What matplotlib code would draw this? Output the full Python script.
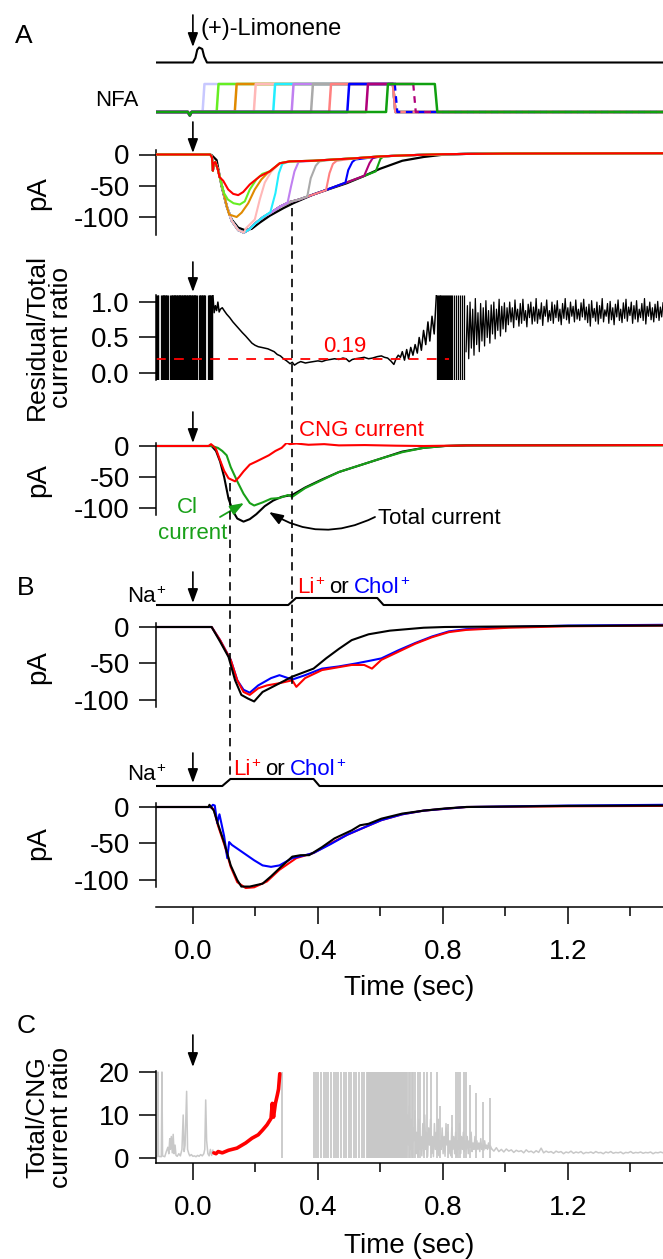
import numpy as np
import matplotlib
matplotlib.use("Agg")
import matplotlib.pyplot as plt
from matplotlib.lines import Line2D
from matplotlib.patches import FancyArrowPatch
from matplotlib.transforms import blended_transform_factory

# ---------------- data (time in s) ----------------
TMIN, TMAX = -0.118, 1.504

# A: odor pulse and NFA applications
lim_pulse = [(TMIN, 0), (0.0, 0), (0.008, 0.3), (0.014, 0.85), (0.02, 1), (0.03, 0.9),
             (0.036, 0.4), (0.045, 0), (TMAX, 0)]
nfa_colors = ["#c8c8ff", "#66ee22", "#e08a00", "#ffb8b8", "#22eeff", "#c080f0",
              "#aaaaaa", "#ff8080", "#0000ff", "#b0007a", "#10a010"]
nfa_on = [0.031, 0.076, 0.134, 0.195, 0.257, 0.316, 0.378, 0.436, 0.494, 0.554, 0.618]
nfa_off = [0.64, 0.64, 0.64, 0.64, 0.64, 0.64, 0.64, 0.64, 0.646, 0.705, 0.774]
nfa_dashed_off = [False] * 8 + [True, True, False]

# A: currents (pA)
a_total = [(TMIN, 0), (0.055, 0), (0.06, -1), (0.076, -9), (0.092, -51), (0.108, -83),
           (0.124, -104), (0.145, -117), (0.166, -121), (0.188, -119), (0.214, -109),
           (0.246, -98), (0.289, -86), (0.321, -78), (0.385, -64), (0.438, -55),
           (0.492, -46), (0.545, -35), (0.598, -23), (0.67, -10), (0.738, -4),
           (0.806, 0), (0.9, 1.5), (1.1, 2), (TMAX, 2)]
a_env = [(TMIN, 0), (0.055, 0), (0.061, -4), (0.064, -26), (0.067, -14), (0.072, -12),
         (0.08, -24), (0.092, -48), (0.108, -82), (0.124, -106), (0.145, -121),
         (0.163, -125), (0.18, -120), (0.2, -110), (0.225, -100), (0.25, -93),
         (0.28, -83), (0.31, -76), (0.34, -72), (0.38, -65), (0.43, -56), (0.49, -45),
         (0.55, -34), (0.6, -25)]
a_resid = [(0.085, -36), (0.097, -42), (0.113, -56), (0.129, -63), (0.145, -65),
           (0.161, -60), (0.182, -48), (0.214, -35), (0.246, -27), (0.278, -14),
           (0.31, -11), (0.385, -10), (0.45, -8), (0.52, -6), (0.6, -3), (0.7, -1),
           (0.8, 0.5), (1.0, 1.5), (TMAX, 2)]
a_lime = [(0.1, -62), (0.112, -72), (0.13, -78), (0.15, -80), (0.166, -75), (0.182, -56),
          (0.203, -40), (0.222, -31)]
a_orange = [(0.116, -96), (0.14, -100), (0.156, -93), (0.177, -78), (0.198, -56),
            (0.219, -40), (0.24, -29)]
a_pink = [(0.17, -118), (0.198, -104), (0.214, -72), (0.23, -45), (0.25, -28)]
a_cyan = [(0.248, -92), (0.264, -62), (0.275, -30), (0.286, -15)]
a_violet = [(0.303, -77), (0.314, -51), (0.325, -27), (0.338, -12)]
a_gray = [(0.366, -67), (0.377, -38), (0.393, -18), (0.405, -11)]
a_salmon = [(0.426, -57), (0.437, -30), (0.448, -15), (0.46, -10)]
a_blue = [(0.488, -45), (0.497, -25), (0.51, -12), (0.52, -8)]
a_purple = [(0.548, -34), (0.565, -14), (0.575, -6)]
a_green = [(0.585, -27), (0.6, -7), (0.61, -3)]

# A: residual / total ratio
r_spikes1 = [-0.117, -0.115, -0.113, -0.111, -0.101, -0.099, -0.097, -0.095, -0.093,
             -0.091, -0.089, -0.087, -0.085, -0.083, -0.081, -0.072, -0.07, -0.068,
             -0.066, -0.064, -0.062, -0.06, -0.058, -0.056, -0.054, -0.052, -0.05,
             -0.048, -0.046, -0.044, -0.042, -0.04, -0.038, -0.036, -0.034, -0.032,
             -0.03, -0.028, -0.026, -0.024, -0.022, -0.02, -0.018, -0.016, -0.014,
             -0.012, -0.01, -0.008, -0.006, -0.004, -0.002, 0.0, 0.002, 0.004, 0.006,
             0.008, 0.01, 0.012, 0.02, 0.022, 0.024, 0.026, 0.028, 0.03, 0.032, 0.034,
             0.036, 0.038, 0.048, 0.05, 0.052, 0.054, 0.056, 0.058, 0.06, 0.062]
r_smooth = [(0.064, 1.1), (0.068, 0.85), (0.072, 0.95), (0.076, 0.88), (0.08, 1.0),
            (0.084, 0.86), (0.088, 0.9), (0.094, 0.92), (0.1, 0.88), (0.108, 0.83),
            (0.118, 0.78), (0.128, 0.72), (0.138, 0.67), (0.148, 0.62), (0.158, 0.57),
            (0.169, 0.52), (0.179, 0.47), (0.189, 0.42), (0.199, 0.39), (0.209, 0.37),
            (0.22, 0.36), (0.23, 0.35), (0.24, 0.34), (0.25, 0.32), (0.26, 0.3),
            (0.27, 0.26), (0.28, 0.24), (0.29, 0.2), (0.3, 0.17), (0.311, 0.13),
            (0.318, 0.15), (0.325, 0.11), (0.335, 0.14), (0.345, 0.16), (0.36, 0.14),
            (0.372, 0.15), (0.386, 0.16), (0.4, 0.17), (0.413, 0.16), (0.426, 0.18),
            (0.44, 0.19), (0.453, 0.2), (0.467, 0.19), (0.48, 0.21), (0.49, 0.2),
            (0.5, 0.16), (0.51, 0.19), (0.52, 0.2), (0.535, 0.21), (0.548, 0.22),
            (0.562, 0.2), (0.575, 0.21), (0.59, 0.23), (0.603, 0.24), (0.613, 0.22),
            (0.623, 0.21), (0.633, 0.17), (0.643, 0.12), (0.65, 0.2), (0.657, 0.25),
            (0.664, 0.22), (0.67, 0.3), (0.677, 0.18), (0.684, 0.33), (0.69, 0.2),
            (0.697, 0.36), (0.704, 0.25), (0.711, 0.4), (0.718, 0.28), (0.724, 0.5),
            (0.731, 0.32), (0.738, 0.6), (0.745, 0.4), (0.752, 0.72), (0.758, 0.45),
            (0.765, 0.8), (0.772, 0.55), (0.779, 1.1)]
r_spikes2 = [0.78, 0.783, 0.786, 0.789, 0.792, 0.795, 0.798, 0.801, 0.804, 0.807, 0.81,
             0.813, 0.816, 0.819, 0.822, 0.826, 0.83, 0.836, 0.842, 0.848, 0.855, 0.862,
             0.868]
r_tail = [0.3, 0.95, 0.2, 1.0, 0.35, 0.9, 0.25, 1.05, 0.4, 0.85, 0.3, 0.98, 0.45, 0.92,
          0.38, 1.02, 0.5, 0.88, 0.42, 0.96, 0.55, 1.0, 0.48, 0.9, 0.6, 1.04, 0.52, 0.94,
          0.62, 0.99, 0.58, 0.92,
          0.68, 1.0, 0.72, 0.92, 0.64, 1.03, 0.75, 0.9, 0.66, 0.98, 0.7, 1.04, 0.74, 0.88,
          0.65, 0.97, 0.78, 1.0, 0.69, 0.93, 0.73, 1.05, 0.7, 0.9, 0.76, 0.99, 0.67, 0.94,
          0.8, 1.03, 0.72, 0.88, 0.74, 1.0, 0.7, 0.96, 0.78, 1.02, 0.73, 0.9, 0.68, 0.98,
          0.77, 1.05, 0.75, 0.92, 0.7, 1.0, 0.8, 0.94, 0.72, 1.03, 0.76, 0.9, 0.74, 0.99,
          0.79, 1.04, 0.75, 0.93, 0.71, 0.97, 0.66, 1.02, 0.78, 0.91, 0.73, 1.0, 0.69,
          0.95, 0.77, 1.05, 0.72, 0.89, 0.8, 0.98, 0.7, 1.01, 0.75, 0.92, 0.68, 0.97,
          0.79, 1.03, 0.74, 0.9, 0.71, 0.99, 0.77, 1.04, 0.73, 0.93, 0.81, 1.0, 0.7, 0.95,
          0.76, 1.02, 0.72, 0.9, 0.78, 0.98, 0.74, 1.05, 0.69, 0.94, 0.8, 1.0, 0.75, 0.92,
          0.72, 0.97, 0.78, 1.01, 0.74, 0.93, 0.79, 0.99]
ratio_mean = 0.19

# A: CNG / Cl / total currents
cng_red = [(TMIN, 0), (0.05, 0), (0.058, 3), (0.065, 0), (0.074, -5), (0.087, -23),
           (0.1, -40), (0.114, -52), (0.135, -57), (0.148, -50), (0.162, -41), (0.182, -30),
           (0.203, -25), (0.223, -20), (0.243, -15), (0.264, -8), (0.284, -3), (0.3, 5),
           (0.31, 3), (0.331, 4), (0.37, 2), (0.42, 3), (0.467, 1), (0.55, 1.5),
           (0.65, 0.5), (0.738, 0), (0.9, 1), (1.2, 1), (TMAX, 1.5)]
cng_green = [(TMIN, 0), (0.06, 0), (0.08, -3), (0.094, -8), (0.108, -15), (0.121, -34),
             (0.142, -57), (0.162, -77), (0.182, -92), (0.196, -96), (0.223, -91),
             (0.25, -85), (0.277, -84), (0.304, -79), (0.318, -82), (0.359, -68),
             (0.413, -55), (0.467, -42), (0.535, -31), (0.603, -20), (0.67, -10),
             (0.738, -3), (0.806, 0), (0.874, 1), (1.2, 1), (TMAX, 1)]
cng_black = [(TMIN, 0), (0.06, 0), (0.074, -8), (0.087, -25), (0.1, -50), (0.114, -85),
             (0.128, -105), (0.142, -117), (0.162, -122), (0.182, -118), (0.203, -110),
             (0.23, -97), (0.257, -88), (0.284, -82), (0.318, -79), (0.359, -67),
             (0.413, -54), (0.467, -42), (0.535, -31), (0.603, -20), (0.67, -9),
             (0.738, -3), (0.806, 0), (0.874, 1), (1.2, 1.5), (TMAX, 1.5)]

# B: ion substitution
b1_stim = [(TMIN, 0), (0.305, 0), (0.33, 1), (0.59, 1), (0.61, 0), (TMAX, 0)]
b2_stim = [(TMIN, 0), (0.094, 0), (0.12, 1), (0.386, 1), (0.405, 0), (TMAX, 0)]
b1_black = [(TMIN, 0), (0.06, 0), (0.087, -20), (0.114, -41), (0.135, -73), (0.155, -93),
            (0.176, -98), (0.196, -102), (0.223, -89), (0.264, -80), (0.318, -68),
            (0.386, -57), (0.426, -43), (0.467, -30), (0.508, -18), (0.562, -10),
            (0.63, -5), (0.738, -1), (0.806, 0), (1.2, 1.5), (TMAX, 2)]
b1_red = [(TMIN, 0), (0.06, 0), (0.087, -18), (0.121, -45), (0.142, -73), (0.162, -89),
          (0.182, -93), (0.209, -84), (0.237, -80), (0.277, -77), (0.318, -73),
          (0.331, -82), (0.359, -70), (0.413, -59), (0.467, -55), (0.508, -52),
          (0.548, -52), (0.573, -57), (0.603, -45), (0.657, -34), (0.711, -23),
          (0.765, -14), (0.819, -7), (0.874, -4), (1.01, -1), (1.2, 1), (TMAX, 2)]
b1_blue = [(TMIN, 0), (0.06, 0), (0.087, -18), (0.121, -45), (0.142, -73), (0.162, -86),
           (0.182, -90), (0.209, -80), (0.25, -70), (0.277, -66), (0.318, -72),
           (0.359, -66), (0.413, -57), (0.467, -54), (0.521, -50), (0.569, -46),
           (0.603, -43), (0.657, -32), (0.711, -22), (0.765, -13), (0.819, -6),
           (0.874, -3), (1.01, 0), (1.2, 2), (TMAX, 3)]
b2_black = [(TMIN, 0), (0.05, 0), (0.053, 3), (0.067, -5), (0.08, -23), (0.101, -50),
            (0.121, -80), (0.142, -100), (0.155, -109), (0.182, -109), (0.223, -105),
            (0.25, -95), (0.277, -84), (0.318, -68), (0.345, -66), (0.372, -66),
            (0.413, -55), (0.453, -43), (0.508, -32), (0.535, -25), (0.562, -23),
            (0.603, -16), (0.67, -9), (0.738, -5), (0.806, -2), (0.874, 0), (1.2, 1.5),
            (TMAX, 2)]
b2_red = [(TMIN, 0), (0.055, 0), (0.067, -3), (0.08, -25), (0.101, -52), (0.121, -82),
          (0.142, -103), (0.169, -111), (0.196, -110), (0.237, -102), (0.277, -86),
          (0.331, -70), (0.386, -63), (0.44, -50), (0.494, -38), (0.548, -28),
          (0.603, -18), (0.67, -10), (0.738, -5), (0.874, 0), (1.2, 1), (TMAX, 1.5)]
b2_blue = [(TMIN, 0), (0.058, 0), (0.064, 3), (0.07, 2), (0.078, -22), (0.085, -10),
           (0.1, -40), (0.11, -70), (0.116, -48), (0.125, -52), (0.142, -57), (0.169, -65),
           (0.196, -73), (0.223, -80), (0.25, -82), (0.277, -80), (0.318, -70),
           (0.359, -66), (0.386, -63), (0.44, -51), (0.494, -38), (0.548, -28),
           (0.603, -18), (0.67, -10), (0.738, -5), (0.874, 0), (1.2, 2), (TMAX, 3)]

# C: total / CNG ratio
c_gray1 = [(TMIN, 0.5), (-0.114, 0.3), (-0.112, 20), (-0.11, 0.4), (-0.101, 0.3),
           (-0.099, 20), (-0.097, 0.5), (-0.09, 0.3), (-0.085, 1.5), (-0.08, 2.5),
           (-0.077, 1.0), (-0.074, 4.5), (-0.072, 2.0), (-0.069, 5.0), (-0.066, 1.2),
           (-0.063, 5.5), (-0.06, 1.0), (-0.057, 3.0), (-0.054, 0.6), (-0.05, 0.4),
           (-0.045, 1.0), (-0.04, 0.5), (-0.035, 2.0), (-0.031, 10.0), (-0.028, 1.5),
           (-0.025, 3.0), (-0.02, 15.5), (-0.017, 2.0), (-0.013, 1.0), (-0.01, 0.5),
           (-0.005, 0.8), (0.0, 0.4), (0.005, 0.5), (0.01, 0.3), (0.015, 0.6),
           (0.02, 0.4), (0.025, 0.8), (0.03, 0.5), (0.035, 1.0), (0.038, 2.0),
           (0.041, 13.5), (0.044, 4.0), (0.048, 1.0), (0.052, 0.5), (0.056, 2.0),
           (0.06, 0.6), (0.064, 1.8)]
c_red = [(0.067, 1.2), (0.074, 1.0), (0.081, 1.5), (0.094, 1.2), (0.114, 1.8),
         (0.141, 2.3), (0.169, 3.5), (0.189, 4.6), (0.209, 5.4), (0.223, 6.5),
         (0.237, 7.7), (0.25, 9.2), (0.254, 12.7), (0.258, 9.5), (0.264, 12.7),
         (0.27, 14.6), (0.274, 16), (0.278, 19.6)]
c_full_spikes = [0.284, 0.386, 0.394, 0.401, 0.41, 0.418, 0.426, 0.433, 0.441, 0.45,
                 0.457, 0.465, 0.474, 0.482, 0.49, 0.498, 0.507, 0.515, 0.523, 0.531,
                 0.54, 0.548, 0.556, 0.559, 0.562, 0.565, 0.568, 0.571, 0.574, 0.577,
                 0.58, 0.583, 0.586, 0.589, 0.592, 0.595, 0.598, 0.601, 0.604, 0.607,
                 0.61, 0.613, 0.616, 0.619, 0.622, 0.625, 0.628, 0.631, 0.634, 0.637,
                 0.64, 0.643, 0.646, 0.649, 0.652, 0.655, 0.658, 0.661, 0.664, 0.667,
                 0.67, 0.673, 0.676, 0.679, 0.682, 0.686, 0.69, 0.695, 0.7, 0.705, 0.712,
                 0.72, 0.728, 0.738, 0.75, 0.762, 0.78, 0.842, 0.848, 0.856, 0.866, 0.874]
c_part_spikes = [(0.79, 12), (0.815, 8), (0.83, 10), (0.885, 17), (0.905, 15),
                 (0.928, 13), (0.952, 14)]
c_base = [8, 1, 10, 3, 12, 2, 9, 0.5, 7, 4, 11, 1, 6, 0.3, 9, 2, 5, 0.5, 8, 1, 10, 2, 6,
          0.4, 7, 3, 9, 1, 5, 0.3, 8, 2, 6, 1, 9, 0.5, 4, 2, 7, 1, 5, 0.4, 8, 3, 6, 1, 4,
          0.5, 7, 2, 5, 1, 6, 0.5, 4, 2, 8, 1, 5, 2, 6, 1.5, 4, 2, 5, 1, 4, 2.5, 6, 1.5,
          3.5, 2, 5, 1.5, 4, 2, 3.5, 1.5, 4.5, 2, 3, 1.8, 4, 2.2, 3, 2, 3.5, 2.2, 2.8, 2.2]
c_tail = [2.2, 1.6, 2.4, 1.5, 2.0, 1.4, 2.1, 1.6, 1.9, 1.3, 1.8, 1.5, 1.7, 1.2, 1.9, 1.4,
          1.6, 1.2, 1.7, 1.3, 2.3, 1.2, 1.6, 1.3, 1.5, 1.1, 1.6, 1.3, 1.5, 1.0, 1.4, 1.2,
          1.6, 1.1, 1.4, 1.2, 1.5, 1.0, 1.3, 1.2, 1.4, 1.1, 1.5, 1.2, 1.3, 1.0, 1.4, 1.2,
          1.5, 1.1, 1.3, 1.2, 1.4, 1.0, 1.3, 1.2, 1.5, 1.1, 1.3, 1.2, 1.4, 1.1, 1.3, 1.2,
          1.4, 1.0, 1.3, 1.2, 1.4, 1.2]

# guide lines (s)
dash_late = 0.317
dash_early = 0.12

# ---------------- figure ----------------
plt.rcParams.update({
    "font.family": ["Liberation Sans", "DejaVu Sans"],
    "font.size": 20,
    "axes.linewidth": 1.1,
})

W, H = 663, 1259
L, R = 156, 663
fig = plt.figure(figsize=(W / 100, H / 100), dpi=100)
RED, BLUE, GREEN = "#ff0000", "#0000ff", "#18a018"


def xy(p):
    t, v = zip(*p)
    return list(t), list(v)


def make_ax(top, bottom, ylim):
    ax = fig.add_axes([L / W, 1 - bottom / H, (R - L) / W, (bottom - top) / H])
    ax.set_xlim(TMIN, TMAX)
    ax.set_ylim(*ylim)
    ax.patch.set_alpha(0)
    for s in ax.spines.values():
        s.set_visible(False)
    ax.set_xticks([])
    ax.set_yticks([])
    return ax


def yaxis(ax, ticks, labels, bounds=None):
    ax.spines["left"].set_visible(True)
    if bounds:
        ax.spines["left"].set_bounds(*bounds)
    ax.set_yticks(ticks)
    ax.set_yticklabels(labels)
    ax.tick_params(axis="y", direction="out", length=12, width=1.1, pad=7, labelsize=20)


def xaxis(ax):
    ax.spines["bottom"].set_visible(True)
    ax.set_xticks([0, 0.4, 0.8, 1.2])
    ax.set_xticklabels(["0.0", "0.4", "0.8", "1.2"])
    ax.set_xticks([0.2, 0.6, 1.0, 1.4], minor=True)
    ax.tick_params(axis="x", which="major", direction="out", length=12, width=1.1,
                   pad=11, labelsize=20)
    ax.tick_params(axis="x", which="minor", direction="out", length=6.5, width=1.1)


def ftext(x, y, s, **kw):
    return fig.text(x / W, 1 - y / H, s, **kw)


renderer = fig.canvas.get_renderer()


def ion_text(x, y, parts, size=16):
    # parts: (text, colour, superscript plus?)
    for s, c, sup in parts:
        t = ftext(x, y, s, size=size, color=c, va="baseline")
        x = t.get_window_extent(renderer).x1 + 0.5
        if sup:
            p = ftext(x, y - 8, "+", size=11, color=c, va="baseline")
            x = p.get_window_extent(renderer).x1
        x += 5


def down_arrow(ax, y0, y1):
    tr = blended_transform_factory(ax.transData, fig.transFigure)
    fig.add_artist(FancyArrowPatch((0, 1 - y0 / H), (0, 1 - y1 / H), transform=tr,
                                   arrowstyle="-|>,head_length=0.6,head_width=0.22",
                                   mutation_scale=14, lw=1.2, color="k",
                                   shrinkA=0, shrinkB=0))


def vdash(ax, t, y0, y1):
    tr = blended_transform_factory(ax.transData, fig.transFigure)
    fig.add_artist(Line2D([t, t], [1 - y0 / H, 1 - y1 / H], transform=tr, color="k",
                          lw=1.2, dashes=(5, 3.5)))


# --- A: limonene pulse
ax_lim = make_ax(40, 70, (-0.5, 1.5))
ax_lim.plot(*xy(lim_pulse), color="k", lw=1.5)

# --- A: NFA steps
ax_nfa = make_ax(77, 119, (-0.25, 1.25))
for c, ton, toff, dsh in zip(nfa_colors, nfa_on, nfa_off, nfa_dashed_off):
    t = [TMIN, -0.016, -0.01, -0.004, ton, ton + 0.006, toff]
    v = [0, 0, -0.12, 0, 0, 1, 1]
    if dsh:
        ax_nfa.plot(t, v, color=c, lw=1.8)
        ax_nfa.plot([toff, toff + 0.008, TMAX], [1, 0, 0], color=c, lw=1.6,
                    dashes=(3, 2.5))
    else:
        ax_nfa.plot(t + [toff + 0.008, TMAX], v + [0, 0], color=c, lw=1.8)

# --- A: currents
ax_a = make_ax(150, 235, (-128.8, 7.2))
yaxis(ax_a, [0, -50, -100], ["0", "-50", "-100"])
ax_a.plot(*xy(a_total), color="k", lw=1.6, zorder=2)
tr_list = [(a_green, nfa_colors[10]), (a_purple, nfa_colors[9]), (a_blue, nfa_colors[8]),
           (a_salmon, nfa_colors[7]), (a_gray, nfa_colors[6]), (a_violet, nfa_colors[5]),
           (a_cyan, nfa_colors[4]), (a_pink, nfa_colors[3]), (a_orange, nfa_colors[2]),
           (a_lime, nfa_colors[1]), ([], RED)]
for pts, c in tr_list:
    t0 = pts[0][0] if pts else a_resid[0][0]
    t1 = pts[-1][0] if pts else a_resid[0][0] - 1e-6
    full = [p for p in a_env if p[0] < t0] + pts + [p for p in a_resid if p[0] > t1]
    ax_a.plot(*xy(full), color=c, lw=1.5, zorder=3)

# --- A: ratio
ax_r = make_ax(295, 380, (-0.1, 1.1))
yaxis(ax_r, [0, 0.5, 1.0], ["0.0", "0.5", "1.0"])
ax_r.vlines(r_spikes1, -0.1, 1.1, color="k", lw=0.9)
ax_r.plot(*xy(r_smooth), color="k", lw=1.1)
ax_r.vlines(r_spikes2, -0.1, 1.1, color="k", lw=0.9)
ax_r.plot(np.linspace(0.874, TMAX, len(r_tail)), r_tail, color="k", lw=0.9)
ax_r.plot([TMIN, 0.82], [ratio_mean, ratio_mean], color=RED, lw=1.3, dashes=(5.4, 4.6))

# --- A: CNG / Cl / total
ax_c = make_ax(443, 530, (-135.5, 4.84))
yaxis(ax_c, [0, -50, -100], ["0", "-50", "-100"], bounds=(-111.3, 4.84))
ax_c.plot(*xy(cng_black), color="k", lw=1.5)
ax_c.plot(*xy(cng_green), color=GREEN, lw=1.5)
ax_c.plot(*xy(cng_red), color=RED, lw=1.5)

# --- B: first substitution
ax_s1 = make_ax(591, 612, (-1, 2))
ax_s1.plot(*xy(b1_stim), color="k", lw=1.5)
ax_b1 = make_ax(623, 707, (-109.6, 5.48))
yaxis(ax_b1, [0, -50, -100], ["0", "-50", "-100"])
ax_b1.plot(*xy(b1_blue), color=BLUE, lw=1.5)
ax_b1.plot(*xy(b1_red), color=RED, lw=1.5)
ax_b1.plot(*xy(b1_black), color="k", lw=1.5)

# --- B: second substitution
ax_s2 = make_ax(772, 793, (-1, 2))
ax_s2.plot(*xy(b2_stim), color="k", lw=1.5)
ax_b2 = make_ax(803, 907, (-137.0, 5.48))
yaxis(ax_b2, [0, -50, -100], ["0", "-50", "-100"], bounds=(-109.6, 5.48))
xaxis(ax_b2)
ax_b2.plot(*xy(b2_red), color=RED, lw=1.5)
ax_b2.plot(*xy(b2_blue), color=BLUE, lw=1.5)
ax_b2.plot(*xy(b2_black), color="k", lw=1.5)

# --- C
ax_cc = make_ax(1071, 1163, (-1.16, 20.23))
yaxis(ax_cc, [0, 10, 20], ["0", "10", "20"])
xaxis(ax_cc)
GR = "#c8c8c8"
ax_cc.plot(*xy(c_gray1), color=GR, lw=1.1)
ax_cc.vlines(c_full_spikes, 0, 20, color=GR, lw=1.3)
pt, ph = xy(c_part_spikes)
ax_cc.vlines(pt, 0, ph, color=GR, lw=1.3)
ax_cc.plot(np.linspace(0.68, 0.955, len(c_base)), c_base, color=GR, lw=1.1)
ax_cc.plot(np.linspace(0.955, TMAX, len(c_tail)), c_tail, color=GR, lw=1.1)
ax_cc.plot(*xy(c_red), color=RED, lw=2.6, solid_capstyle="round")

# --- arrows and guide lines
down_arrow(ax_a, 15, 47)
down_arrow(ax_a, 122, 153)
down_arrow(ax_a, 262, 292)
down_arrow(ax_a, 412, 443)
down_arrow(ax_a, 572, 603)
down_arrow(ax_a, 753, 783)
down_arrow(ax_a, 1035, 1067)
vdash(ax_a, dash_late, 208, 684)
vdash(ax_a, dash_early, 483, 778)

# --- texts
ftext(15, 43, "A", size=19, va="baseline")
ftext(201, 35, "(+)-Limonene", size=17, va="baseline")
ftext(117, 106, "NFA", size=16, ha="center", va="baseline")
ftext(38, 193, "pA", size=20, rotation=90, ha="center", va="center")
ftext(49, 337, "Residual/Total\ncurrent ratio", size=19, rotation=90, ha="center",
      va="center", linespacing=1.0, multialignment="center")
ftext(345, 352, "0.19", size=16, color=RED, ha="center", va="baseline")
ftext(299, 436, "CNG current", size=16, color=RED, va="baseline")
ftext(38, 480, "pA", size=20, rotation=90, ha="center", va="center")
ftext(187, 513, "Cl", size=16, color=GREEN, ha="center", va="baseline")
ftext(193, 539, "current", size=16, color=GREEN, ha="center", va="baseline")
ftext(378, 524, "Total current", size=16, va="baseline")
fig.add_artist(FancyArrowPatch((220 / W, 1 - 517 / H), (244 / W, 1 - 503 / H),
                               transform=fig.transFigure, color=GREEN, lw=1.3,
                               arrowstyle="-|>,head_length=0.6,head_width=0.22",
                               mutation_scale=14, shrinkA=0, shrinkB=0))
fig.add_artist(FancyArrowPatch((375 / W, 1 - 517 / H), (269 / W, 1 - 512 / H),
                               transform=fig.transFigure, color="k", lw=1.3,
                               connectionstyle="arc3,rad=-0.28",
                               arrowstyle="-|>,head_length=0.6,head_width=0.22",
                               mutation_scale=14, shrinkA=0, shrinkB=0))

ftext(17, 595, "B", size=19, va="baseline")
ion_text(127, 602, [("Na", "k", True)])
ion_text(297, 593, [("Li", RED, True), ("or", "k", False), ("Chol", BLUE, True)])
ftext(38, 667, "pA", size=20, rotation=90, ha="center", va="center")
ion_text(127, 780, [("Na", "k", True)])
ion_text(233, 775, [("Li", RED, True), ("or", "k", False), ("Chol", BLUE, True)])
ftext(38, 843, "pA", size=20, rotation=90, ha="center", va="center")
ftext(409, 988, "Time (sec)", size=20, ha="center", va="center")

ftext(17, 1033, "C", size=19, va="baseline")
ftext(49, 1117, "Total/CNG\ncurrent ratio", size=19, rotation=90, ha="center",
      va="center", linespacing=1.0, multialignment="center")
ftext(409, 1246, "Time (sec)", size=20, ha="center", va="center")

fig.savefig("out.png", dpi=100)
